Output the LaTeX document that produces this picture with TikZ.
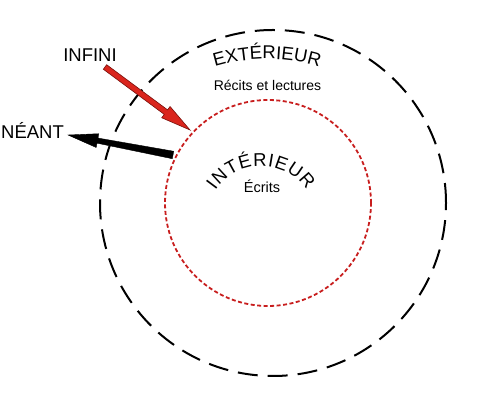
\documentclass[tikz,border=0pt]{standalone}
\usepackage{fontspec}
\setmainfont{Liberation Sans}
\usetikzlibrary{calc,decorations.text}
\definecolor{arrred}{RGB}{218,37,29}
\definecolor{arrdark}{RGB}{120,15,10}
\definecolor{dotred}{RGB}{200,30,30}
% tail, tip, tail half-width, neck half-width, head half-width, head length, style
\newcommand{\fatarrow}[7]{%
  \coordinate (neck) at ($(#2)!#6!(#1)$);
  \draw[#7] ($(#1)!#3!90:(#2)$) -- ($(neck)!#4!90:(#2)$) -- ($(neck)!#5!90:(#2)$) -- (#2)
    -- ($(neck)!#5!-90:(#2)$) -- ($(neck)!#4!-90:(#2)$) -- ($(#1)!#3!-90:(#2)$) -- cycle;}
\begin{document}
\begin{tikzpicture}[x=1pt,y=1pt,
  outer/.style={draw=black, line width=2pt, dash pattern=on 20pt off 10pt},
  inner/.style={draw=dotred, line width=1.8pt, dash pattern=on 4pt off 2.5pt},
  lbl/.style={inner sep=0pt, font=\fontsize{18.5}{20}\selectfont},
  small/.style={inner sep=0pt, font=\fontsize{14}{16}\selectfont},
  redarrow/.style={fill=arrred, draw=arrdark, line width=0.6pt, line join=miter},
  blackarrow/.style={fill=black, draw=black, line width=0.4pt}]
\useasboundingbox (0,0) rectangle (500,403);
\coordinate (C) at (273,200);
\coordinate (Ci) at (268,200);
\draw[outer] (C) circle[radius=173];
\draw[inner] (Ci) circle[radius=103];
% labels
\node[lbl] (infini) at (90,348) {INFINI};
\node[lbl, anchor=west] (neant) at (1,273) {NÉANT};
\node[small] (recits) at (267.5,318) {Récits et lectures};
\node[inner sep=0pt, font=\fontsize{14.5}{16}\selectfont, anchor=base] (ecrits) at (262,210) {Écrits};
% arrows
\coordinate (rt) at (105,336);
\coordinate (rh) at (190,273);
\coordinate (bt) at (173,248);
\coordinate (bh) at (68,268);
\fatarrow{rt}{rh}{2.8pt}{2.8pt}{7pt}{30pt}{redarrow}
\fatarrow{bt}{bh}{3.8pt}{2.6pt}{7pt}{30pt}{blackarrow}
% curved texts
\path[decorate, decoration={text along path, text={|\fontsize{18.5}{20}\selectfont|EXTÉRIEUR}, text align=center}]
  (267,164) ++(130:180) arc[start angle=130, end angle=50, radius=180];
\path[decorate, decoration={text along path, text={|\fontsize{18.5}{20}\selectfont|INTÉRIEUR}, text align=fit to path}]
  (261,182) ++(146:55) arc[start angle=146, end angle=34, radius=55];
\end{tikzpicture}
\end{document}
